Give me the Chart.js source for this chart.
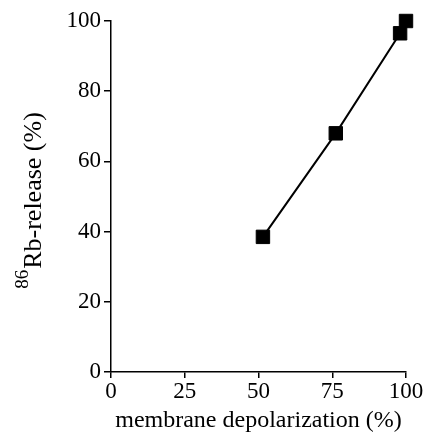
<!DOCTYPE html>
<html>
<head>
<meta charset="utf-8">
<script src="https://cdn.jsdelivr.net/npm/chart.js@4.4.0/dist/chart.umd.min.js"></script>
<style>
  html, body { margin: 0; padding: 0; background: #fff; }
  #wrap { width: 429px; height: 435px; }
</style>
</head>
<body>
<div id="wrap"><canvas id="chart"></canvas></div>
<script>
// 膜脱分極 (%) と 86Rb 放出 (%)
const depolarization = [51.5, 76.2, 98, 100];
const rbRelease = [38.5, 68, 96.5, 100];
const xTicks = [0, 25, 50, 75, 100];
const yTicks = [0, 20, 40, 60, 80, 100];

const serif = "'Liberation Serif', 'Times New Roman', serif";

const points = depolarization.map((x, i) => ({ x: x, y: rbRelease[i] }));

// ✅ 縦軸タイトル（上付きの 86 を小さい文字で描く）
const yTitlePlugin = {
    id: "yTitle",
    afterDraw(chart) {
        const ctx = chart.ctx;
        const area = chart.chartArea;
        const sup = "86";
        const main = "Rb-release (%)";
        ctx.save();
        ctx.fillStyle = "#000";
        ctx.textBaseline = "alphabetic";
        ctx.textAlign = "left";
        ctx.font = `19px ${serif}`;
        const wSup = ctx.measureText(sup).width;
        ctx.font = `26px ${serif}`;
        const wMain = ctx.measureText(main).width;
        const total = wSup + 1 + wMain;
        const centerY = (area.top + area.bottom) / 2 + 4;
        ctx.translate(41, centerY + total / 2);
        ctx.rotate(-Math.PI / 2);
        ctx.font = `19px ${serif}`;
        ctx.fillText(sup, 0, -13);
        ctx.font = `26px ${serif}`;
        ctx.fillText(main, wSup + 1, 0);
        ctx.restore();
    }
};

new Chart(document.getElementById("chart"), {
    type: "scatter",
    data: {
        datasets: [{
            data: points,
            showLine: true,
            borderColor: "#000",
            backgroundColor: "#000",
            borderWidth: 2,
            pointStyle: "rect",
            pointRadius: 9.5,
            pointBorderWidth: 1,
            pointBorderColor: "#000",
            pointBackgroundColor: "#000",
            clip: false
        }]
    },
    options: {
        responsive: true,
        maintainAspectRatio: false,
        animation: false,
        layout: { padding: { top: 21, right: 23, left: 0, bottom: 0 } },
        plugins: {
            legend: { display: false },
            tooltip: { enabled: false }
        },
        scales: {
            x: {
                type: "linear",
                min: 0,
                max: 100,
                afterBuildTicks: scale => { scale.ticks = xTicks.map(v => ({ value: v })); },
                afterFit: scale => { scale.height = 63; },
                border: { display: true, color: "#000", width: 1.5 },
                grid: { display: true, drawOnChartArea: false, drawTicks: true, tickLength: 6, color: "#000", lineWidth: 1.5 },
                ticks: { color: "#000", font: { family: serif, size: 23 }, padding: 0, maxRotation: 0 },
                title: {
                    display: true,
                    text: "membrane depolarization (%)",
                    color: "#000",
                    font: { family: serif, size: 24 },
                    padding: { top: 0, bottom: 0 }
                }
            },
            y: {
                type: "linear",
                min: 0,
                max: 100,
                afterBuildTicks: scale => { scale.ticks = yTicks.map(v => ({ value: v })); },
                afterFit: scale => { scale.width = 111; },
                border: { display: true, color: "#000", width: 1.5 },
                grid: { display: true, drawOnChartArea: false, drawTicks: true, tickLength: 7, color: "#000", lineWidth: 1.5 },
                ticks: { color: "#000", font: { family: serif, size: 23 }, padding: 3 },
                title: { display: false }
            }
        }
    },
    plugins: [yTitlePlugin]
});
</script>
</body>
</html>
